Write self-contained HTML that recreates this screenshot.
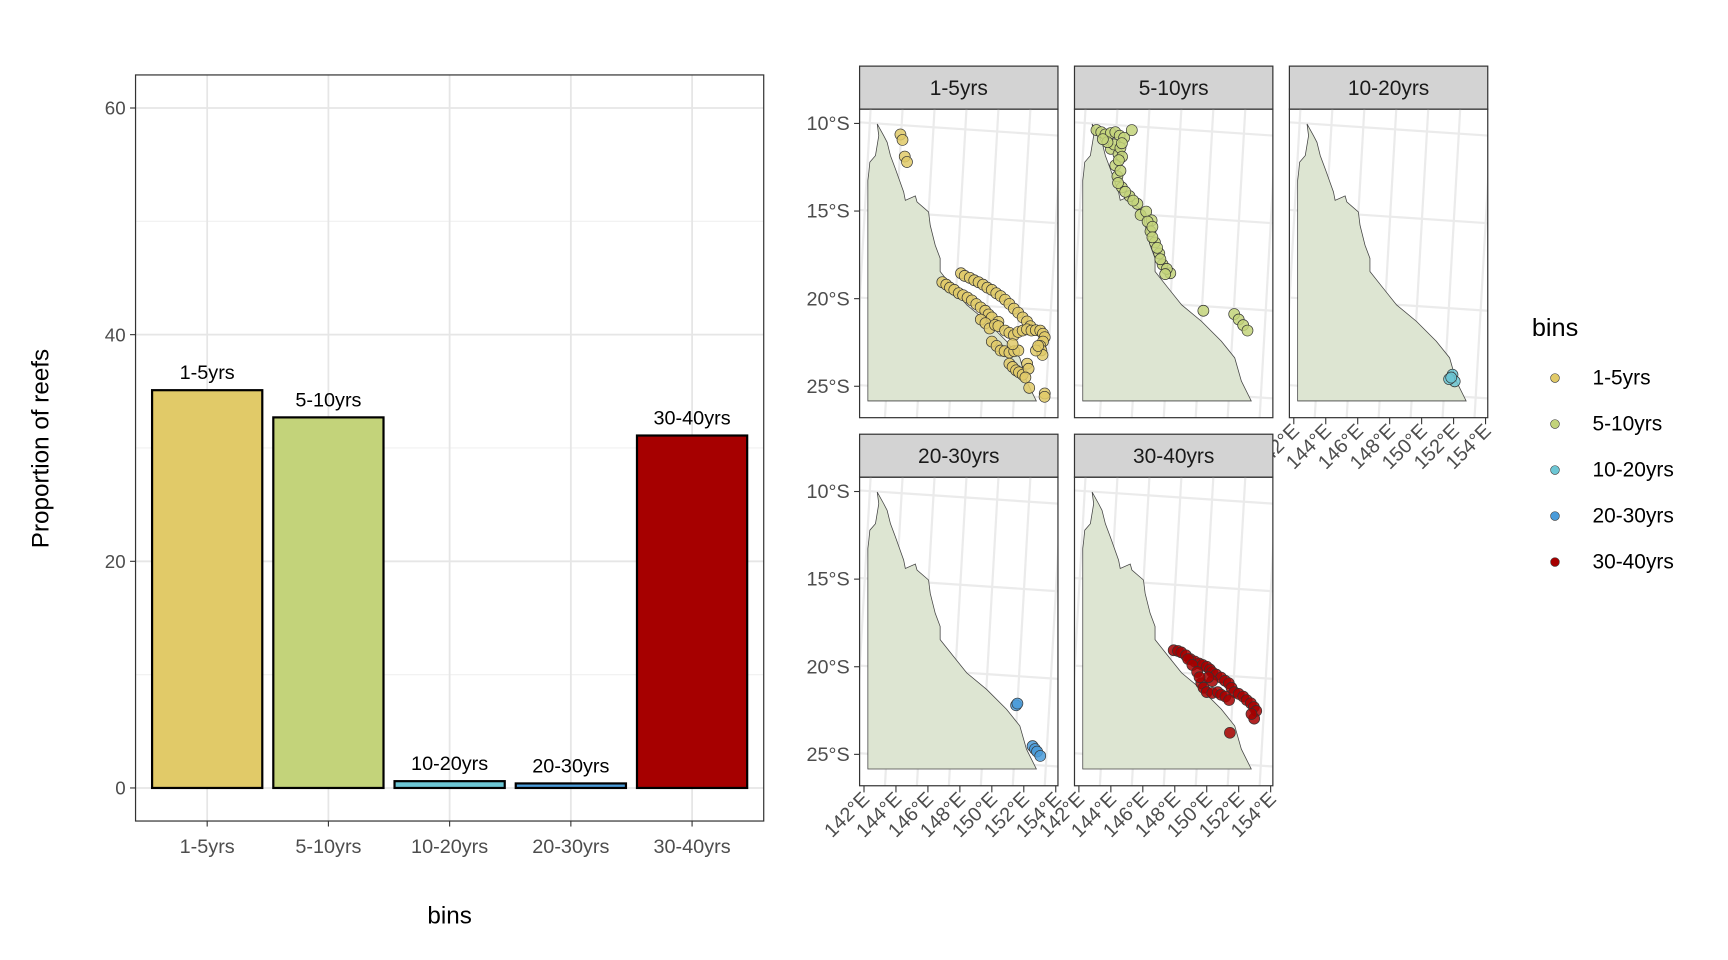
<!DOCTYPE html>
<html><head><meta charset="utf-8"><style>
html,body{margin:0;padding:0;background:#fff;}
svg{display:block;font-family:"Liberation Sans",Arial,sans-serif;}
</style></head><body>
<svg id="fig" width="1728" height="960" viewBox="0 0 1568 871.1">
<g id="bar"></g>
<g id="maps"></g>
<g id="legend"></g>
</svg>
<script>
const categories = ["1-5yrs","5-10yrs","10-20yrs","20-30yrs","30-40yrs"];
const values = [35.1, 32.7, 0.6, 0.4, 31.1];
const yTicks = [0, 20, 40, 60];
const yMinor = [10, 30, 50];
const colors = ["#E1CA68","#C3D37A","#6CC6D4","#4A9BD9","#A60000"];
const latTicks = [10, 15, 20, 25];
const lonTicks = [142, 144, 146, 148, 150, 152, 154];
const pts1 = [[144.28,10.63],[144.41,10.94],[144.55,11.89],[144.69,12.20],[148.07,18.55],[148.3,18.7],[148.62,18.81],[148.9,18.95],[149.17,19.06],[149.45,19.2],[149.72,19.37],[150.0,19.5],[150.28,19.69],[150.55,19.85],[150.83,20.06],[151.1,20.3],[151.38,20.57],[151.65,20.8],[151.93,21.07],[152.2,21.3],[152.41,21.57],[146.90,19.06],[147.15,19.2],[147.38,19.37],[147.65,19.5],[147.93,19.69],[148.2,19.8],[148.48,19.94],[148.75,20.1],[149.03,20.31],[149.3,20.5],[149.59,20.69],[149.8,20.9],[150.00,21.07],[150.41,21.32],[149.31,21.19],[149.6,21.4],[149.86,21.70],[150.2,21.5],[150.41,21.57],[150.83,21.82],[151.1,21.95],[151.38,22.08],[151.65,21.9],[151.93,21.82],[152.2,21.75],[152.48,21.82],[152.75,21.8],[153.03,21.82],[153.2,22.0],[153.31,22.20],[153.2,22.45],[153.03,22.70],[153.1,22.95],[153.17,23.21],[152.76,22.96],[152.9,22.7],[150.00,22.45],[150.3,22.7],[150.55,22.96],[150.8,23.0],[151.10,23.08],[151.4,23.0],[151.66,22.96],[151.3,22.6],[151.10,23.71],[151.3,23.9],[151.52,24.09],[151.7,24.2],[151.93,24.34],[152.21,23.71],[152.3,24.0],[152.1,24.5],[152.34,25.09],[153.31,25.41],[153.3,25.6]];
const pts2 = [[143.10,10.38],[143.4,10.5],[143.66,10.63],[144.0,10.55],[144.28,10.50],[144.55,10.7],[144.83,10.82],[145.31,10.38],[144.00,11.45],[144.2,11.2],[144.48,11.76],[144.6,11.4],[143.79,11.07],[143.5,10.9],[144.69,11.13],[144.7,11.9],[144.28,12.39],[144.5,12.1],[144.41,13.02],[144.6,12.7],[144.69,13.65],[144.45,13.4],[145.17,14.15],[144.9,13.9],[145.66,14.59],[145.4,14.4],[145.86,15.22],[146.21,15.03],[146.55,15.53],[146.3,15.6],[146.48,16.16],[146.6,15.9],[146.76,16.79],[146.6,16.5],[147.03,17.42],[146.9,17.1],[147.24,18.05],[147.1,17.75],[147.72,18.55],[147.5,18.3],[147.4,18.6],[149.79,20.69],[151.72,20.88],[152.00,21.19],[152.28,21.51],[152.55,21.82]];
const pts3 = [[151.93,24.34],[152.07,24.72],[151.72,24.59],[151.85,24.5]];
const pts4 = [[151.52,22.20],[151.6,22.1],[152.55,24.53],[152.7,24.7],[152.83,24.84],[153.03,25.09]];
const pts5 = [[147.93,19.06],[148.2,19.1],[148.41,19.18],[148.7,19.35],[148.97,19.56],[149.25,19.7],[149.52,19.81],[149.75,19.9],[150.00,20.00],[150.2,20.15],[150.34,20.31],[150.6,20.45],[150.90,20.62],[151.15,20.8],[151.38,20.94],[151.55,21.2],[151.72,21.45],[152.0,21.55],[152.28,21.70],[152.5,21.9],[152.76,22.08],[152.95,22.3],[153.10,22.52],[138.97+14,22.96],[152.8,22.7],[149.66,20.94],[149.8,21.2],[150.00,21.45],[150.35,21.5],[150.69,21.45],[150.34,20.82],[150.1,20.6],[150.9,21.6],[151.17,21.70],[151.4,21.9],[148.83,19.56],[149.1,19.9],[149.4,20.3],[149.55,20.6],[151.45,23.77]];
const points = [pts1, pts2, pts3, pts4, pts5];

const NS = "http://www.w3.org/2000/svg";
function el(tag, attrs, parent, text){
  const e = document.createElementNS(NS, tag);
  for (const k in attrs) e.setAttribute(k, attrs[k]);
  if (text !== undefined) e.textContent = text;
  parent.appendChild(e);
  return e;
}
// ---- bar chart ----
const bar = document.getElementById("bar");
const PX0 = 123, PX1 = 693, PY0 = 68, PY1 = 745;
const yS = v => 715 - v * (715 - 98) / 60;
const xS = i => 188 + i * 110;
yMinor.forEach(v => el("line",{x1:PX0,x2:PX1,y1:yS(v),y2:yS(v),stroke:"#F0F0F0","stroke-width":1},bar));
yTicks.forEach(v => {
  const g = el("line",{x1:PX0,x2:PX1,y1:yS(v),y2:yS(v),stroke:"#E6E6E6","stroke-width":1.6},bar);
  
  
  el("line",{x1:PX0-5,x2:PX0,y1:yS(v),y2:yS(v),stroke:"#333","stroke-width":1},bar);
  const t = el("text",{x:PX0-9,y:yS(v)+6,"text-anchor":"end","font-size":17,fill:"#4D4D4D"},bar,String(v));
  
  
});
categories.forEach((c,i) => {
  el("line",{x1:xS(i),x2:xS(i),y1:PY0,y2:PY1,stroke:"#E6E6E6","stroke-width":1.6},bar);
});
categories.forEach((c,i) => {
  const top = yS(values[i]);
  const r = el("rect",{x:xS(i)-50,y:top,width:100,height:yS(0)-top,fill:colors[i],stroke:"#000","stroke-width":2},bar);
  
  
  const l = el("text",{x:xS(i),y:top-10,"text-anchor":"middle","font-size":18,fill:"#000"},bar,c);
  
  
  el("line",{x1:xS(i),x2:xS(i),y1:PY1,y2:PY1+5,stroke:"#333","stroke-width":1},bar);
  const xt = el("text",{x:xS(i),y:774,"text-anchor":"middle","font-size":18,fill:"#4D4D4D"},bar,c);
  
  
});
el("rect",{x:PX0,y:PY0,width:PX1-PX0,height:PY1-PY0,fill:"none",stroke:"#333","stroke-width":1.1},bar);
const xt = el("text",{x:408,y:838,"text-anchor":"middle","font-size":22,fill:"#000"},bar,"bins");


const yt = el("text",{x:0,y:0,"text-anchor":"middle","font-size":22,fill:"#000",transform:"translate(44,407) rotate(-90)"},bar,"Proportion of reefs");



// ---- maps ----
const maps = document.getElementById("maps");
const panels = [[780,99],[975,99],[1170,99],[780,433],[975,433]];
const PW = 180, PH = 280;
const lonX = lon => 4 + (lon - 142) * 14.5;
const latY = lat => 13 + (lat - 10) * 15.9;
const landPts = [[17.7,15],[24.3,26.7],[27.7,33.3],[31,46.7],[36,60],[44.3,83.3],[46,91.7],[56,87.3],[57.7,93.3],[69.3,103.3],[71,116.7],[76,136.7],[81,150],[81,163.3],[94.3,180],[107.7,196.7],[127.7,213.3],[147.7,233.3],[161,250],[167.7,273.3],[177.7,293.3],[8.3,293.3],[8.3,71.7],[9.3,63.3],[10.3,53.3],[16,46.7],[19.3,26.7]];
const landD = "M" + landPts.map(p => (p[0]*0.9028).toFixed(1)+","+(p[1]*0.9028).toFixed(1)).join("L") + "Z";
const defs = el("defs",{},maps);
const cp = el("clipPath",{id:"pc"},defs);
el("rect",{x:0,y:0,width:PW,height:PH},cp);
panels.forEach((p,i) => {
  const g = el("g",{transform:`translate(${p[0]},${p[1]})`},maps);
  
  
  const s = el("rect",{x:0,y:-39,width:PW,height:39,fill:"#D3D3D3",stroke:"#333","stroke-width":1.1},g);
  
  
  el("text",{x:PW/2,y:-13,"text-anchor":"middle","font-size":19,fill:"#1A1A1A"},g,categories[i]);
  const inner = el("g",{"clip-path":"url(#pc)"},g);
  latTicks.forEach(l => el("line",{x1:0,x2:PW,y1:latY(l)-1,y2:latY(l)+11,stroke:"#EBEBEB","stroke-width":2},inner));
  lonTicks.forEach(l => el("line",{x1:lonX(l)+6,x2:lonX(l)-10,y1:0,y2:PH,stroke:"#EBEBEB","stroke-width":2},inner));
  const land = el("path",{d:landD,fill:"#DDE5D2",stroke:"#444","stroke-width":0.7},inner);
  
  
  points[i].forEach(q => {
    const c = el("circle",{cx:lonX(q[0]),cy:latY(q[1]),r:5,fill:colors[i],"fill-opacity":0.85,stroke:"#333","stroke-width":0.6},inner);
    
    
  });
  el("rect",{x:0,y:0,width:PW,height:PH,fill:"none",stroke:"#333","stroke-width":1.1},g);
  if (i === 0 || i === 3) {
    latTicks.forEach(l => {
      el("line",{x1:-5,x2:0,y1:latY(l),y2:latY(l),stroke:"#333","stroke-width":1},g);
      const t = el("text",{x:-9,y:latY(l)+6,"text-anchor":"end","font-size":18,fill:"#4D4D4D"},g,l+"°S");
      
      
    });
  }
  if (i >= 2) {
    lonTicks.forEach(l => {
      el("line",{x1:lonX(l),x2:lonX(l),y1:PH,y2:PH+6,stroke:"#333","stroke-width":1},g);
      const t = el("text",{x:0,y:0,"text-anchor":"end","font-size":18,fill:"#4D4D4D",transform:`translate(${lonX(l)+6},${PH+13}) rotate(-45)`},g,l+"°E");
      
      
    });
  }
});

// ---- legend ----
const leg = document.getElementById("legend");
const lt = el("text",{x:1390,y:305,"font-size":23,fill:"#000"},leg,"bins");


categories.forEach((c,i) => {
  const y = 343 + i * 41.75;
  const g = el("g",{},leg);
  
  
  el("circle",{cx:1411,cy:y,r:4,fill:colors[i],stroke:"#333","stroke-width":0.5},g);
  el("text",{x:1445,y:y+6,"font-size":19,fill:"#000"},g,c);
});
</script>
</body></html>
